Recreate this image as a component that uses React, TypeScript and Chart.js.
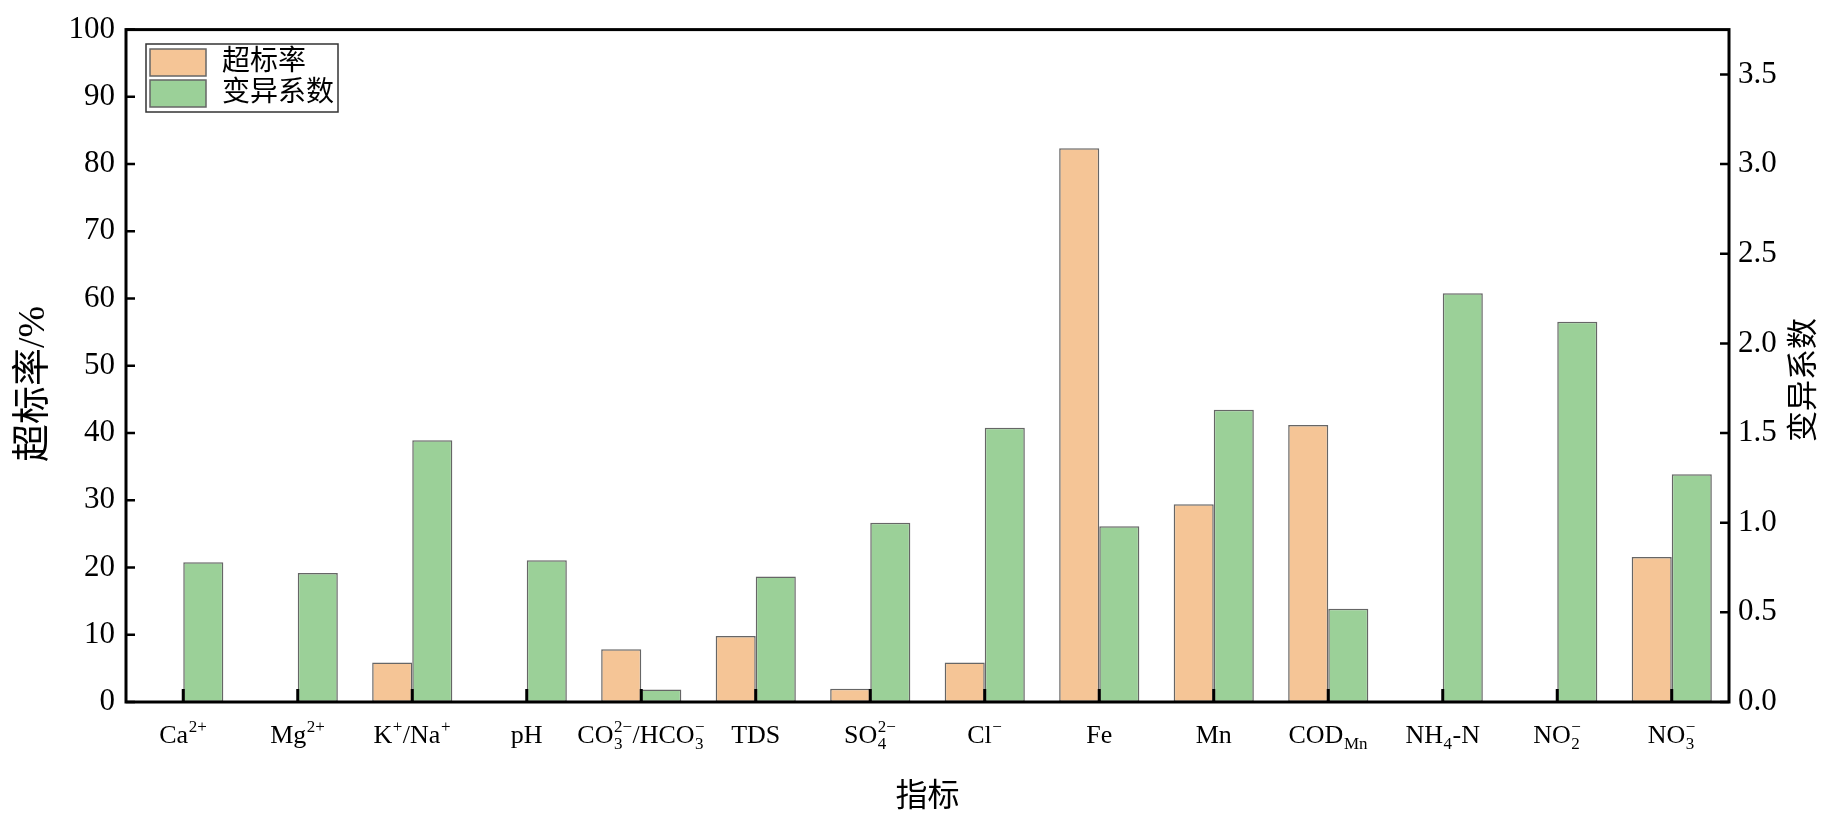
import React, { useEffect, useRef } from 'react';
import { Chart, registerables } from 'chart.js';

Chart.register(...registerables);

// ---- data ----
const categories = [
  'Ca^{2+}',
  'Mg^{2+}',
  'K^{+}/Na^{+}',
  'pH',
  'CO_{3}^{2−}/HCO_{3}^{−}',
  'TDS',
  'SO_{4}^{2−}',
  'Cl^{−}',
  'Fe',
  'Mn',
  'COD_{Mn}',
  'NH_{4}-N',
  'NO_{2}^{−}',
  'NO_{3}^{−}',
];
const exceedRate = [0, 0, 5.88, 0, 7.84, 9.8, 1.96, 5.88, 82.35, 29.41, 41.18, 0, 0, 21.57];
const cvValues = [0.78, 0.72, 1.46, 0.79, 0.07, 0.7, 1.0, 1.53, 0.98, 1.63, 0.52, 2.28, 2.12, 1.27];
const seriesNames = ['超标率', '变异系数'];
const xTitle = '指标';
const leftTitle = '超标率/%';
const rightTitle = '变异系数';
const leftMax = 100;
const leftStep = 10;
const rightMax = 3.75;
const rightStep = 0.5;

// ---- style ----
const W = 1831;
const H = 819;
const SERIF = '"Liberation Serif", "Times New Roman", "Noto Sans CJK SC", serif';
const ORANGE = 'rgb(245,197,150)';
const GREEN = 'rgb(155,208,152)';
const BAR_BORDER = '#666666';

type Seg = { t: string; k: 'n' | 'sup' | 'sub' };
function parseRich(s: string): Seg[] {
  const out: Seg[] = [];
  const re = /(\^\{[^}]*\}|_\{[^}]*\})/g;
  let last = 0;
  let m: RegExpExecArray | null;
  while ((m = re.exec(s))) {
    if (m.index > last) out.push({ t: s.slice(last, m.index), k: 'n' });
    const tok = m[0];
    out.push({ t: tok.slice(2, -1), k: tok[0] === '^' ? 'sup' : 'sub' });
    last = m.index + tok.length;
  }
  if (last < s.length) out.push({ t: s.slice(last), k: 'n' });
  return out;
}

function drawRich(ctx: CanvasRenderingContext2D, label: string, cx: number, baseline: number) {
  const segs = parseRich(label);
  const items: any[] = [];
  for (const s of segs) {
    if (s.k === 'n') items.push({ n: s.t });
    else {
      const lastItem = items[items.length - 1];
      if (lastItem && lastItem.n === undefined && lastItem[s.k] === undefined) lastItem[s.k] = s.t;
      else items.push({ [s.k]: s.t });
    }
  }
  const baseFont = `26px ${SERIF}`;
  const smallFont = `17px ${SERIF}`;
  const widths = items.map((it) => {
    if (it.n !== undefined) {
      ctx.font = baseFont;
      return ctx.measureText(it.n).width;
    }
    ctx.font = smallFont;
    const a = it.sup ? ctx.measureText(it.sup).width : 0;
    const b = it.sub ? ctx.measureText(it.sub).width : 0;
    return Math.max(a, b) + 1;
  });
  const total = widths.reduce((a, b) => a + b, 0);
  let x = cx - total / 2;
  ctx.save();
  ctx.fillStyle = '#000';
  ctx.textAlign = 'left';
  ctx.textBaseline = 'alphabetic';
  items.forEach((it, i) => {
    if (it.n !== undefined) {
      ctx.font = baseFont;
      ctx.fillText(it.n, x, baseline);
    } else {
      ctx.font = smallFont;
      if (it.sup) ctx.fillText(it.sup, x + 0.5, baseline - 11);
      if (it.sub) ctx.fillText(it.sub, x + 0.5, baseline + 6);
    }
    x += widths[i];
  });
  ctx.restore();
}

const decorPlugin = {
  id: 'decor',
  afterDatasetsDraw(chart: any) {
    const { ctx, chartArea } = chart;
    const { left, right, top, bottom } = chartArea;
    const xs = chart.scales.x;
    const yl = chart.scales.y;
    const yr = chart.scales.y1;
    ctx.save();
    ctx.strokeStyle = '#000';
    ctx.lineWidth = 3;
    ctx.strokeRect(left, top, right - left, bottom - top);
    ctx.lineWidth = 2.5;
    ctx.beginPath();
    yl.ticks.forEach((t: any) => {
      const y = yl.getPixelForValue(t.value);
      ctx.moveTo(left, y);
      ctx.lineTo(left + 9, y);
    });
    yr.ticks.forEach((t: any) => {
      const y = yr.getPixelForValue(t.value);
      ctx.moveTo(right, y);
      ctx.lineTo(right - 9, y);
    });
    ctx.stroke();
    ctx.lineWidth = 3;
    ctx.beginPath();
    categories.forEach((_, i) => {
      const x = xs.getPixelForValue(i);
      ctx.moveTo(x, bottom);
      ctx.lineTo(x, bottom - 13);
    });
    ctx.stroke();
    ctx.restore();
  },
  afterDraw(chart: any) {
    const { ctx, chartArea } = chart;
    const xs = chart.scales.x;
    const { left, right, bottom } = chartArea;
    categories.forEach((c, i) => {
      drawRich(ctx, c, xs.getPixelForValue(i), bottom + 41);
    });
    ctx.save();
    ctx.fillStyle = '#000';
    ctx.textAlign = 'center';
    ctx.textBaseline = 'middle';
    ctx.font = `32px ${SERIF}`;
    ctx.fillText(xTitle, (left + right) / 2, 798);
    ctx.save();
    ctx.translate(34, 384);
    ctx.rotate(-Math.PI / 2);
    ctx.font = `38px ${SERIF}`;
    ctx.fillText(leftTitle, 0, 0);
    ctx.restore();
    ctx.save();
    ctx.translate(1805, 380);
    ctx.rotate(-Math.PI / 2);
    ctx.font = `31px ${SERIF}`;
    ctx.fillText(rightTitle, 0, 0);
    ctx.restore();
    // legend
    const lx = 146;
    const ly = 44;
    ctx.fillStyle = '#fff';
    ctx.fillRect(lx, ly, 192, 68);
    ctx.strokeStyle = '#333';
    ctx.lineWidth = 1.5;
    ctx.strokeRect(lx, ly, 192, 68);
    const ds = chart.data.datasets;
    ds.forEach((d: any, i: number) => {
      const py = ly + 5 + i * 31;
      ctx.fillStyle = d.backgroundColor;
      ctx.fillRect(lx + 4, py, 56, 27);
      ctx.strokeStyle = BAR_BORDER;
      ctx.lineWidth = 1.5;
      ctx.strokeRect(lx + 4, py, 56, 27);
      ctx.fillStyle = '#000';
      ctx.textAlign = 'left';
      ctx.textBaseline = 'middle';
      ctx.font = `28px ${SERIF}`;
      ctx.fillText(d.label, lx + 76, py + 14);
    });
    ctx.restore();
  },
};

export default function App() {
  const ref = useRef<HTMLCanvasElement | null>(null);
  useEffect(() => {
    if (!ref.current) return;
    const chart = new Chart(ref.current, {
      type: 'bar',
      data: {
        labels: categories,
        datasets: [
          {
            label: seriesNames[0],
            data: exceedRate,
            backgroundColor: ORANGE,
            borderColor: BAR_BORDER,
            borderWidth: 1.5,
            borderSkipped: false,
            yAxisID: 'y',
            categoryPercentage: 0.7,
            barPercentage: 1.0,
          },
          {
            label: seriesNames[1],
            data: cvValues,
            backgroundColor: GREEN,
            borderColor: BAR_BORDER,
            borderWidth: 1.5,
            borderSkipped: false,
            yAxisID: 'y1',
            categoryPercentage: 0.7,
            barPercentage: 1.0,
          },
        ],
      },
      options: {
        responsive: false,
        animation: false,
        maintainAspectRatio: false,
        layout: { padding: { top: 28, left: 0, right: 0, bottom: 0 } },
        plugins: {
          legend: { display: false },
          tooltip: { enabled: false },
          title: { display: false },
        },
        scales: {
          x: {
            type: 'category',
            grid: { display: false, drawTicks: false },
            border: { display: false },
            ticks: { display: false },
            afterFit(scale: any) {
              scale.height = H - 702;
            },
          },
          y: {
            position: 'left',
            min: 0,
            max: leftMax,
            grid: { display: false, drawTicks: false },
            border: { display: false },
            ticks: {
              stepSize: leftStep,
              color: '#000',
              padding: 11,
              font: { family: SERIF, size: 31 },
            },
            afterFit(scale: any) {
              scale.width = 126;
            },
          },
          y1: {
            position: 'right',
            min: 0,
            max: rightMax,
            grid: { display: false, drawTicks: false },
            border: { display: false },
            afterBuildTicks(scale: any) {
              scale.ticks = scale.ticks.filter(
                (t: any) => Math.abs(t.value / rightStep - Math.round(t.value / rightStep)) < 1e-6
              );
            },
            ticks: {
              stepSize: rightStep,
              color: '#000',
              padding: 9,
              font: { family: SERIF, size: 31 },
              callback: (v: any) => Number(v).toFixed(1),
            },
            afterFit(scale: any) {
              scale.width = W - 1729;
            },
          },
        },
      },
      plugins: [decorPlugin],
    } as any);
    return () => chart.destroy();
  }, []);
  return (
    <div style={{ position: 'fixed', left: 0, top: 0, width: W, height: H, background: '#fff' }}>
      <canvas ref={ref} width={W} height={H} style={{ width: W, height: H, display: 'block' }} />
    </div>
  );
}
